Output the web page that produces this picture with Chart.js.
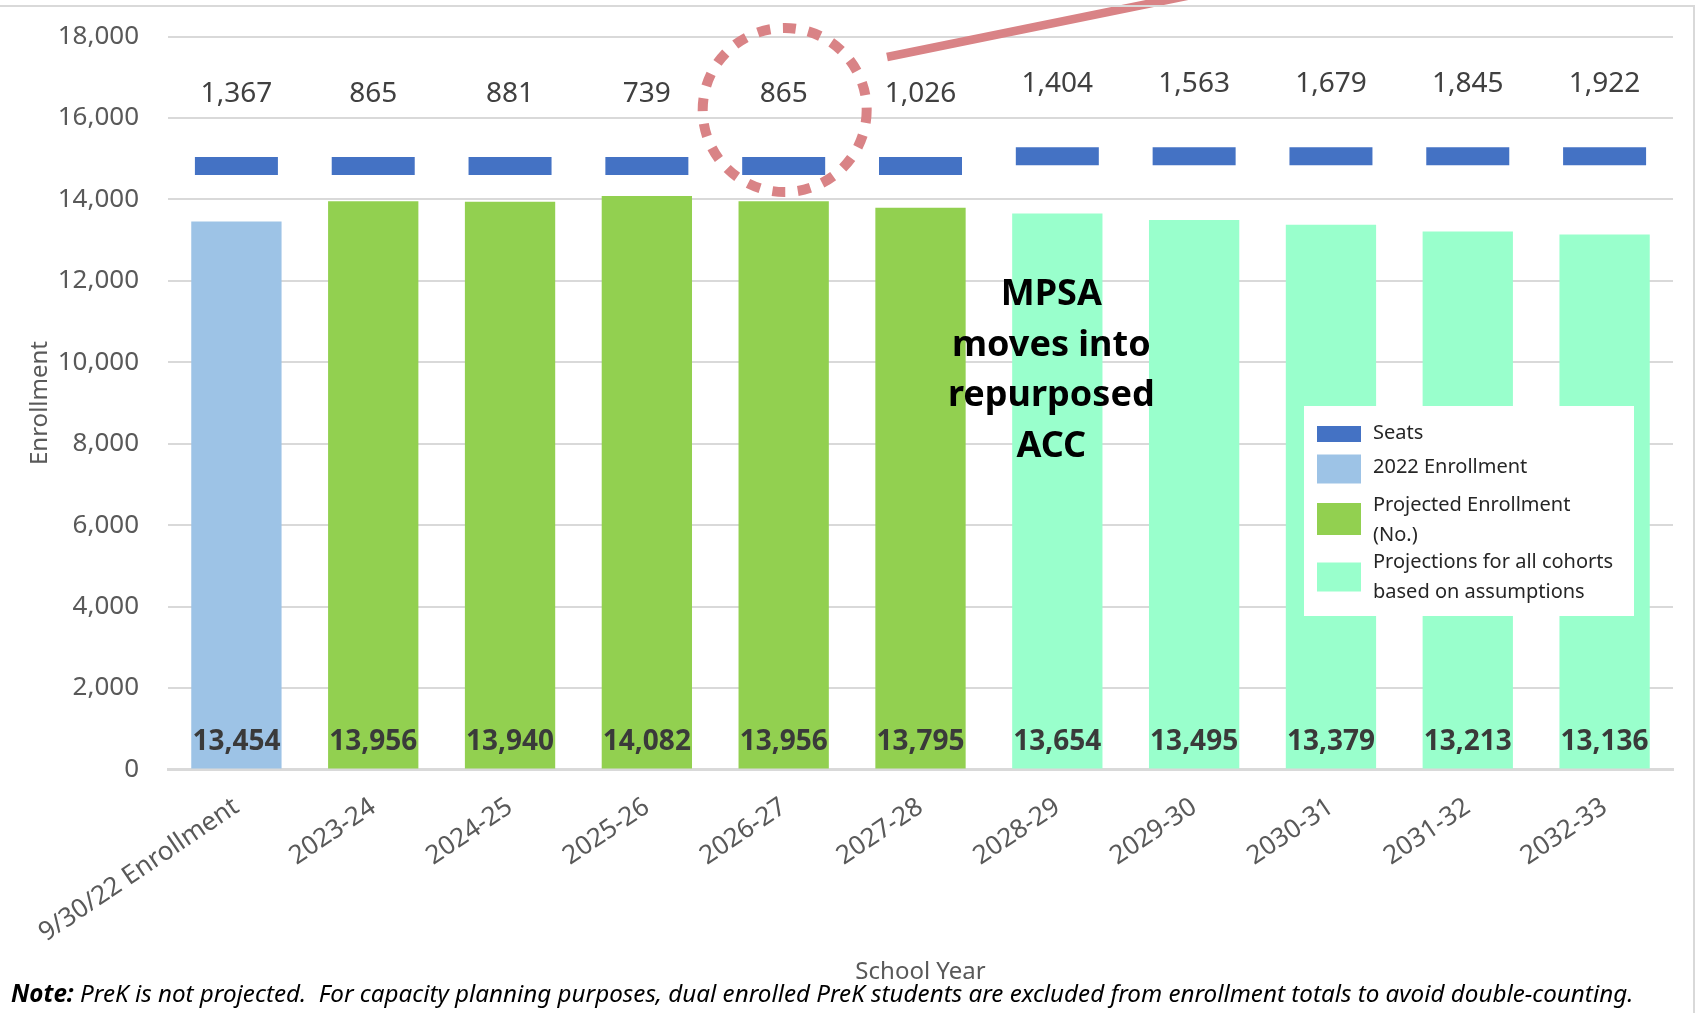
<!DOCTYPE html>
<html>
<head>
<meta charset="utf-8">
<title>Enrollment projections</title>
<script src="https://cdn.jsdelivr.net/npm/chart.js@4.4.1/dist/chart.umd.min.js"></script>
<style>
  html, body { margin: 0; padding: 0; background: #fff; }
  #wrap { position: relative; width: 1696px; height: 1013px; overflow: hidden; }
  #chart { position: absolute; left: 0; top: 0; }
  .frame-top { position: absolute; left: 0; top: 5px; width: 1695px; height: 2px; background: #d9d9d9; }
  .frame-right { position: absolute; left: 1693px; top: 5px; width: 2px; height: 1008px; background: #d9d9d9; }
  #note { position: absolute; left: 11px; top: 978px; font: italic 24.2px 'Noto Sans'; line-height: 30px; white-space: nowrap; color: #000; }
</style>
</head>
<body>
<div id="wrap">
  <canvas id="chart" width="1696" height="1013"></canvas>
  <div class="frame-top"></div>
  <div class="frame-right"></div>
  <div id="note"><b>Note:</b> PreK is not projected.&nbsp; For capacity planning purposes, dual enrolled PreK students are excluded from enrollment totals to avoid double-counting.</div>
</div>
<script>
// chart data
var years = ['9/30/22 Enrollment', '2023-24', '2024-25', '2025-26', '2026-27', '2027-28',
             '2028-29', '2029-30', '2030-31', '2031-32', '2032-33'];
var enrollment = [13454, 13956, 13940, 14082, 13956, 13795, 13654, 13495, 13379, 13213, 13136];
var seats = [14821, 14821, 14821, 14821, 14821, 14821, 15058, 15058, 15058, 15058, 15058];
var openSeats = [1367, 865, 881, 739, 865, 1026, 1404, 1563, 1679, 1845, 1922];
var enrollmentKind = ['actual', 'projected', 'projected', 'projected', 'projected', 'projected',
                      'cohort', 'cohort', 'cohort', 'cohort', 'cohort'];
var yTicks = [0, 2000, 4000, 6000, 8000, 10000, 12000, 14000, 16000, 18000];

var legendLines = [
    ['Seats'],
    ['2022 Enrollment'],
    ['Projected Enrollment', '(No.)'],
    ['Projections for all cohorts', 'based on assumptions']
];
var noteLines = ['MPSA', 'moves into', 'repurposed', 'ACC'];

function fmt(v) { return v.toLocaleString('en-US'); }
function pick(kind) {
    return enrollment.map(function (v, i) { return enrollmentKind[i] === kind ? v : null; });
}

Chart.defaults.font.family = "'Noto Sans', sans-serif";
Chart.defaults.color = '#595959';

var overlays = {
    id: 'overlays',
    afterDatasetsDraw: function (chart) {
        var ctx = chart.ctx;
        var x = chart.scales.x, y = chart.scales.y;
        var seatPts = chart.getDatasetMeta(3).data;
        ctx.save();
        ctx.textAlign = 'center';
        ctx.textBaseline = 'middle';
        ctx.fillStyle = '#404040';
        ctx.font = "28px 'Noto Sans'";
        seatPts.forEach(function (pt, i) {
            ctx.fillText(fmt(openSeats[i]), pt.x, pt.y - 72);
        });
        ctx.font = "bold 28px 'Noto Sans'";
        ctx.fillStyle = '#3a3a3a';
        enrollment.forEach(function (v, i) {
            ctx.fillText(fmt(v), x.getPixelForValue(i), y.getPixelForValue(0) - 27);
        });
        ctx.restore();
    },
    afterDraw: function (chart) {
        var ctx = chart.ctx;
        var x = chart.scales.x;
        ctx.save();

        // MPSA annotation
        ctx.textAlign = 'center';
        ctx.textBaseline = 'middle';
        ctx.fillStyle = '#000';
        ctx.font = "bold 36px 'Noto Sans'";
        var ax = x.getPixelForValue(6) - 6;
        noteLines.forEach(function (t, i) {
            ctx.fillText(t, ax, 295 + i * 50.5);
        });

        // legend box
        var ds = chart.data.datasets;
        var order = [3, 0, 1, 2];
        var swH = [16, 29, 32, 29];
        var swY = [434, 469, 519, 577];
        var rowY = [[433], [467], [505, 535], [562, 592]];
        ctx.fillStyle = '#fff';
        ctx.fillRect(1304, 406, 330, 210);
        ctx.font = "20px 'Noto Sans'";
        ctx.textAlign = 'left';
        order.forEach(function (d, k) {
            ctx.fillStyle = d === 3 ? ds[d].pointBorderColor : ds[d].backgroundColor;
            ctx.fillRect(1317, swY[k] - swH[k] / 2, 44, swH[k]);
            ctx.fillStyle = '#262626';
            legendLines[k].forEach(function (t, j) { ctx.fillText(t, 1373, rowY[k][j]); });
        });

        // dotted circle and pointer line
        ctx.strokeStyle = '#d98386';
        ctx.lineWidth = 10;
        ctx.setLineDash([13, 12.6]);
        ctx.beginPath();
        ctx.arc(x.getPixelForValue(4) + 1, 110, 82, 0, Math.PI * 2);
        ctx.stroke();
        ctx.setLineDash([]);
        ctx.lineWidth = 8.5;
        ctx.beginPath();
        ctx.moveTo(887, 57);
        ctx.lineTo(1200, -6.7);
        ctx.stroke();
        ctx.restore();
    }
};

new Chart(document.getElementById('chart'), {
    data: {
        labels: years,
        datasets: [
            { type: 'bar', label: legendLines[1].join(' '), data: pick('actual'),
              backgroundColor: '#9dc3e6', order: 2 },
            { type: 'bar', label: legendLines[2].join(' '), data: pick('projected'),
              backgroundColor: '#92d050', order: 2 },
            { type: 'bar', label: legendLines[3].join(' '), data: pick('cohort'),
              backgroundColor: '#99ffcc', order: 2 },
            { type: 'line', label: legendLines[0].join(' '), data: seats, showLine: false,
              pointStyle: 'line', pointRadius: 41.5, pointHoverRadius: 41.5,
              pointBorderWidth: 18, pointHoverBorderWidth: 18,
              pointBorderColor: '#4472c4', borderColor: '#4472c4', order: 0 }
        ]
    },
    options: {
        responsive: false,
        devicePixelRatio: 1,
        animation: false,
        events: [],
        datasets: { bar: { grouped: false, barPercentage: 0.66, categoryPercentage: 1 } },
        layout: { autoPadding: false, padding: { left: 0, right: 23, top: 36.5, bottom: 26.6 } },
        plugins: { legend: { display: false }, tooltip: { enabled: false } },
        scales: {
            x: {
                offset: true,
                grid: { display: false },
                border: { display: true, color: '#d9d9d9', width: 3 },
                ticks: { font: { size: 26 }, color: '#595959', minRotation: 34, maxRotation: 34, padding: 14 },
                title: { display: true, text: 'School Year', font: { size: 24 }, color: '#595959',
                         padding: { top: 0, bottom: 0 } },
                afterFit: function (s) {
                    s.height = 216.9;
                    s.paddingLeft = 0;
                    s.paddingRight = 0;
                }
            },
            y: {
                min: 0, max: 18000,
                afterBuildTicks: function (s) { s.ticks = yTicks.map(function (v) { return { value: v }; }); },
                grid: { color: '#d9d9d9', lineWidth: 2, drawTicks: false },
                border: { display: false },
                ticks: { font: { size: 26 }, color: '#595959', padding: 29,
                         callback: function (v) { return fmt(v); } },
                title: { display: true, text: 'Enrollment', font: { size: 24 }, color: '#595959',
                         padding: { top: 26, bottom: 0 } },
                afterFit: function (s) {
                    s.width = 168;
                    s.paddingTop = 0;
                    s.paddingBottom = 0;
                }
            }
        }
    },
    plugins: [overlays]
});
</script>
</body>
</html>
